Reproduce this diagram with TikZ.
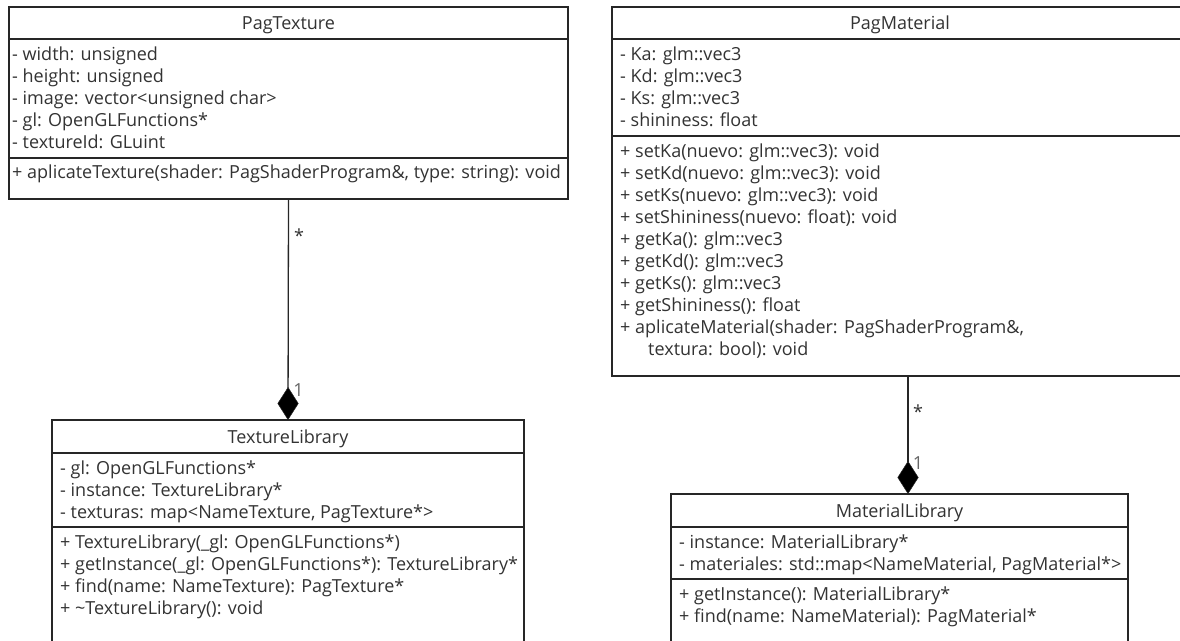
\documentclass[tikz,border=0pt]{standalone}
\usepackage{fontspec}
\setmainfont{Open Sans}
\usetikzlibrary{arrows.meta,calc}
\definecolor{linec}{HTML}{262626}
\definecolor{textc}{HTML}{333333}
\definecolor{multc}{HTML}{666666}
\begin{document}
\begin{tikzpicture}[x=1pt,y=-1pt,
  classbox/.style={draw=linec, line width=1.5pt, anchor=north west, inner sep=0pt, outer sep=0pt, fill=white},
  divline/.style={draw=linec, line width=1.5pt},
  titletext/.style={anchor=base, inner sep=0pt, font=\fontsize{18}{22}\selectfont, text=textc},
  member/.style={anchor=base west, inner sep=0pt, font=\fontsize{18}{22}\selectfont, text=textc},
  multtext/.style={anchor=base, inner sep=0pt, font=\fontsize{18}{22}\selectfont, text=multc},
  composition/.style={draw=linec, line width=1.3pt, -{Diamond[length=33pt,width=21pt,fill=black,line width=0.5pt]}}
]
\useasboundingbox (0,0) rectangle (1180,640);
\fill[white] (0,0) rectangle (1180,640);
\clip (0,0) rectangle (1180,640);

% ---------- PagTexture ----------
\node[classbox, minimum width=559pt, minimum height=192pt] (pagtex) at (9,7) {};
\draw[divline] ($(pagtex.north west)+(0,32)$) -- ($(pagtex.north east)+(0,32)$);
\draw[divline] ($(pagtex.north west)+(0,151)$) -- ($(pagtex.north east)+(0,151)$);
\node[titletext] (pagtex-t) at (288.5,29.5) {PagTexture};
\foreach \t [count=\i from 0] in {{- width: unsigned},{- height: unsigned},{- image: vector<unsigned char>},{- gl: OpenGLFunctions*},{- textureId: GLuint}}
  \node[member] (pagtex-a\i) at (12,60.5+22*\i) {\t};
\node[member] (pagtex-m0) at (12,178.5) {+ aplicateTexture(shader: PagShaderProgram\&, type: string): void};

% ---------- TextureLibrary ----------
\node[classbox, minimum width=472pt, minimum height=230pt] (texlib) at (52,420) {};
\draw[divline] ($(texlib.north west)+(0,33)$) -- ($(texlib.north east)+(0,33)$);
\draw[divline] ($(texlib.north west)+(0,107)$) -- ($(texlib.north east)+(0,107)$);
\node[titletext] (texlib-t) at (288,443) {TextureLibrary};
\foreach \t [count=\i from 0] in {{- gl: OpenGLFunctions*},{- instance: TextureLibrary*},{- texturas: map<NameTexture, PagTexture*>}}
  \node[member] (texlib-a\i) at (60,474.5+22*\i) {\t};
\foreach \t [count=\i from 0] in {{+ TextureLibrary(\_gl: OpenGLFunctions*)},{+ getInstance(\_gl: OpenGLFunctions*): TextureLibrary*},{+ find(name: NameTexture): PagTexture*},{+ \textasciitilde TextureLibrary(): void}}
  \node[member] (texlib-m\i) at (60,548.5+22*\i) {\t};

% ---------- PagMaterial ----------
\node[classbox, minimum width=576pt, minimum height=369pt] (pagmat) at (612,7) {};
\draw[divline] ($(pagmat.north west)+(0,32)$) -- ($(pagmat.north east)+(0,32)$);
\draw[divline] ($(pagmat.north west)+(0,129)$) -- ($(pagmat.north east)+(0,129)$);
\node[titletext] (pagmat-t) at (900,29.5) {PagMaterial};
\foreach \t [count=\i from 0] in {{- Ka: glm::vec3},{- Kd: glm::vec3},{- Ks: glm::vec3},{- shininess: float}}
  \node[member] (pagmat-a\i) at (620,60.5+22*\i) {\t};
\foreach \t [count=\i from 0] in {{+ setKa(nuevo: glm::vec3): void},{+ setKd(nuevo: glm::vec3): void},{+ setKs(nuevo: glm::vec3): void},{+ setShininess(nuevo: float): void},{+ getKa(): glm::vec3},{+ getKd(): glm::vec3},{+ getKs(): glm::vec3},{+ getShininess(): float},{+ aplicateMaterial(shader: PagShaderProgram\&,},{\hspace*{28pt}textura: bool): void}}
  \node[member] (pagmat-m\i) at (620,157.5+22*\i) {\t};

% ---------- MaterialLibrary ----------
\node[classbox, minimum width=457pt, minimum height=160pt] (matlib) at (671,494) {};
\draw[divline] ($(matlib.north west)+(0,33)$) -- ($(matlib.north east)+(0,33)$);
\draw[divline] ($(matlib.north west)+(0,85)$) -- ($(matlib.north east)+(0,85)$);
\node[titletext] (matlib-t) at (899.5,517) {MaterialLibrary};
\foreach \t [count=\i from 0] in {{- instance: MaterialLibrary*},{- materiales: std::map<NameMaterial, PagMaterial*>}}
  \node[member] (matlib-a\i) at (679,548.5+22*\i) {\t};
\foreach \t [count=\i from 0] in {{+ getInstance(): MaterialLibrary*},{+ find(name: NameMaterial): PagMaterial*}}
  \node[member] (matlib-m\i) at (679,600.5+22*\i) {\t};

% ---------- connectors ----------
\draw[composition] (pagtex.south) -- (texlib.north);
\draw[composition] ([xshift=8pt]pagmat.south) -- ([xshift=8.5pt]matlib.north);

\node[multtext, text=textc] (tstar) at (299,242) {*};
\node[multtext] (tone) at (298.5,396.5) {1};
\node[multtext, text=textc] (mstar) at (918,418) {*};
\node[multtext] (mone) at (918,469.5) {1};
\end{tikzpicture}
\end{document}
